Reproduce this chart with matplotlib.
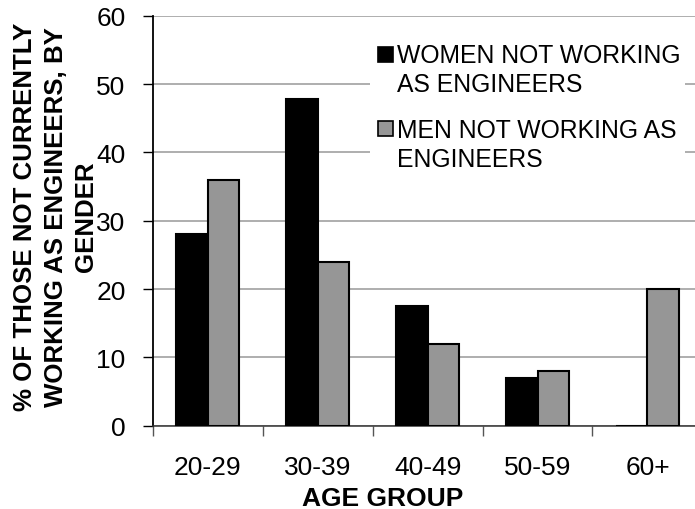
import numpy as np
import matplotlib
matplotlib.use('Agg')
import matplotlib.pyplot as plt
from matplotlib.patches import Rectangle

plt.rcParams['font.family'] = 'Liberation Sans'

age_groups = ['20-29', '30-39', '40-49', '50-59', '60+']
women = [28, 47.8, 17.5, 7, 0]
men = [36, 24, 12, 8, 20]
women_label = ['WOMEN NOT WORKING', 'AS ENGINEERS']
men_label = ['MEN NOT WORKING AS', 'ENGINEERS']

women_color = '#000000'
men_color = '#969696'

fig = plt.figure(figsize=(6.95, 5.1), dpi=100)
ax = fig.add_axes([0.2197, 0.1633, 0.7910, 0.8040])

x = np.arange(len(age_groups))
w = 0.286
ax.bar(x - w / 2, women, w, color=women_color, edgecolor='black', linewidth=1.5, zorder=3)
ax.bar(x + w / 2, men, w, color=men_color, edgecolor='black', linewidth=1.5, zorder=3)

ax.set_xlim(-0.5, len(age_groups) - 0.5)
ax.set_ylim(0, 60)
ax.set_yticks(range(0, 61, 10))
ax.set_xticks(x)
ax.set_xticklabels(age_groups)
ax.set_xticks(np.arange(-0.5, len(age_groups) - 0.4, 1), minor=True)

ax.tick_params(axis='y', direction='out', length=7, width=1, pad=12.5, labelsize=19)
ax.tick_params(axis='x', which='major', length=0, pad=21, labelsize=19)
ax.tick_params(axis='x', which='minor', direction='out', length=7, width=1, color='#555555')

ax.grid(axis='y', color='#999999', linewidth=1.1, zorder=0)
ax.set_axisbelow(True)
for s in ['top', 'right']:
    ax.spines[s].set_visible(False)
ax.spines['left'].set_linewidth(1.3)
ax.spines['bottom'].set_color('#333333')
ax.spines['bottom'].set_linewidth(1.1)

# legend, drawn by hand so each key sits beside the first line of its label
ax.add_patch(Rectangle((0.395, 0.60), 0.573, 0.37, transform=ax.transAxes,
                       facecolor='white', edgecolor='none', zorder=2))
keys = [(women_color, women_label, 0.8878, 0.8863), (men_color, men_label, 0.7066, 0.7034)]
for color, lines, ky, ty in keys:
    ax.add_patch(Rectangle((0.4104, ky), 0.0273, 0.0366, transform=ax.transAxes,
                           facecolor=color, edgecolor='black', linewidth=1.2, zorder=4))
    for i, line in enumerate(lines):
        ax.text(0.4439, ty - i * 0.0690, line, transform=ax.transAxes,
                ha='left', va='baseline', fontsize=17.8, zorder=4)

fig.text(0.080, 0.5745, '% OF THOSE NOT CURRENTLY\nWORKING AS ENGINEERS, BY\nGENDER',
         rotation=90, ha='center', va='center', multialignment='center',
         fontsize=18.6, fontweight='bold', linespacing=1.35)
fig.text(0.5507, 0.0084, 'AGE GROUP', ha='center', va='baseline',
         fontsize=19, fontweight='bold')

fig.savefig('out.png', dpi=100)
